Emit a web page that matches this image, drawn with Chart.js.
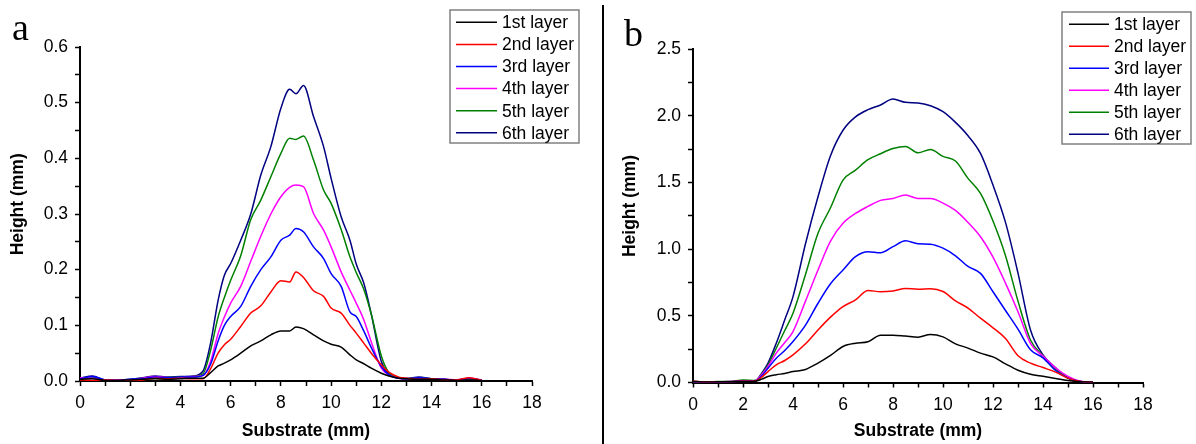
<!DOCTYPE html>
<html>
<head>
<meta charset="utf-8">
<script src="https://cdn.jsdelivr.net/npm/chart.js@4.4.1/dist/chart.umd.min.js"></script>
<style>
body{margin:0;background:#fff;width:1196px;height:444px;overflow:hidden;position:relative}
.panel{position:absolute;top:0;height:444px}
#wrapA{left:0;width:600px}
#wrapB{left:600px;width:596px}
#divider{position:absolute;left:602px;top:5px;width:1.5px;height:439px;background:#000}
</style>
</head>
<body>
<div class="panel" id="wrapA"><canvas id="chartA" width="600" height="444"></canvas></div>
<div id="divider"></div>
<div class="panel" id="wrapB"><canvas id="chartB" width="596" height="444"></canvas></div>
<script>
// layer names + colours
var layerNames = ['1st layer', '2nd layer', '3rd layer', '4th layer', '5th layer', '6th layer'];
var layerColors = ['#000000', '#ff0000', '#0000ff', '#ff00ff', '#008000', '#000080'];

// panel a : substrate position (mm)
var xsA = [0, 0.5, 1, 1.5, 2, 2.5, 3, 3.5, 4, 4.5, 4.9, 5.2, 5.5, 5.75, 6, 6.4, 6.8, 7.2, 7.6, 8, 8.35, 8.6, 8.9, 9.3, 9.7, 10, 10.4, 10.75, 11, 11.3, 11.6, 12, 12.3, 12.7, 13, 13.5, 14, 14.5, 15, 15.5, 16];
// panel a : height (mm)
var a1 = [0.003, 0.004, 0.001, 0.001, 0.002, 0.003, 0.004, 0.003, 0.004, 0.005, 0.005, 0.015, 0.027, 0.032, 0.038, 0.05, 0.063, 0.072, 0.083, 0.09, 0.09, 0.097, 0.094, 0.083, 0.072, 0.066, 0.061, 0.047, 0.038, 0.031, 0.023, 0.014, 0.009, 0.005, 0.004, 0.003, 0.003, 0.002, 0.001, 0.002, 0.001];
var a2 = [0.002, 0.001, 0.002, 0.001, 0.001, 0.002, 0.005, 0.004, 0.005, 0.004, 0.004, 0.022, 0.05, 0.065, 0.075, 0.098, 0.122, 0.135, 0.16, 0.18, 0.178, 0.196, 0.186, 0.162, 0.152, 0.131, 0.122, 0.1, 0.086, 0.068, 0.05, 0.029, 0.016, 0.007, 0.005, 0.003, 0.004, 0.002, 0.002, 0.006, 0.001];
var a3 = [0.004, 0.008, 0.002, 0.001, 0.003, 0.004, 0.007, 0.006, 0.007, 0.007, 0.01, 0.03, 0.072, 0.1, 0.116, 0.134, 0.17, 0.2, 0.223, 0.253, 0.262, 0.274, 0.268, 0.241, 0.22, 0.193, 0.17, 0.124, 0.116, 0.09, 0.06, 0.026, 0.011, 0.005, 0.004, 0.006, 0.004, 0.003, 0.001, 0.005, 0.001];
var a4 = [0.006, 0.005, 0.002, 0.002, 0.002, 0.005, 0.008, 0.006, 0.006, 0.008, 0.01, 0.035, 0.085, 0.115, 0.14, 0.17, 0.215, 0.26, 0.3, 0.331, 0.348, 0.352, 0.349, 0.301, 0.271, 0.241, 0.196, 0.163, 0.14, 0.11, 0.07, 0.023, 0.011, 0.005, 0.004, 0.005, 0.003, 0.003, 0.002, 0.005, 0.002];
var a5 = [0.003, 0.006, 0.001, 0.002, 0.002, 0.004, 0.007, 0.006, 0.007, 0.008, 0.013, 0.055, 0.115, 0.15, 0.181, 0.225, 0.29, 0.325, 0.367, 0.409, 0.436, 0.434, 0.44, 0.397, 0.343, 0.319, 0.272, 0.223, 0.195, 0.165, 0.12, 0.045, 0.015, 0.006, 0.004, 0.006, 0.003, 0.003, 0.001, 0.004, 0.001];
var a6 = [0.005, 0.009, 0.002, 0.002, 0.003, 0.006, 0.009, 0.007, 0.008, 0.009, 0.018, 0.068, 0.145, 0.19, 0.211, 0.253, 0.3, 0.37, 0.421, 0.49, 0.524, 0.516, 0.531, 0.475, 0.421, 0.364, 0.295, 0.253, 0.21, 0.176, 0.12, 0.035, 0.012, 0.005, 0.005, 0.007, 0.004, 0.003, 0.001, 0.004, 0.001];

// panel b : substrate position (mm)
var xsB = [0, 0.5, 1, 1.5, 2, 2.5, 2.75, 3, 3.33, 3.67, 4, 4.5, 5, 5.5, 6, 6.5, 7, 7.5, 8, 8.5, 9, 9.5, 10, 10.5, 11, 11.5, 12, 12.5, 13, 13.5, 14, 14.5, 15, 15.5, 16];
// panel b : height (mm)
var b1 = [0.01, 0.003, 0.005, 0.006, 0.008, 0.01, 0.025, 0.045, 0.058, 0.068, 0.082, 0.098, 0.145, 0.203, 0.27, 0.294, 0.305, 0.355, 0.355, 0.348, 0.34, 0.36, 0.342, 0.29, 0.258, 0.22, 0.192, 0.14, 0.092, 0.062, 0.046, 0.03, 0.015, 0.006, 0.002];
var b2 = [0.012, 0.003, 0.005, 0.006, 0.01, 0.012, 0.04, 0.082, 0.132, 0.165, 0.207, 0.29, 0.394, 0.49, 0.569, 0.619, 0.69, 0.68, 0.686, 0.705, 0.699, 0.703, 0.682, 0.612, 0.558, 0.482, 0.41, 0.33, 0.2, 0.145, 0.112, 0.078, 0.033, 0.008, 0.002];
var b3 = [0.008, 0.003, 0.006, 0.006, 0.01, 0.012, 0.05, 0.107, 0.182, 0.24, 0.307, 0.43, 0.594, 0.74, 0.843, 0.943, 0.98, 0.972, 1.018, 1.062, 1.04, 1.037, 1.007, 0.95, 0.87, 0.818, 0.68, 0.54, 0.4, 0.245, 0.185, 0.09, 0.033, 0.008, 0.002];
var b4 = [0.006, 0.004, 0.006, 0.007, 0.012, 0.014, 0.06, 0.12, 0.22, 0.3, 0.382, 0.61, 0.843, 1.06, 1.193, 1.267, 1.32, 1.365, 1.38, 1.405, 1.38, 1.38, 1.345, 1.29, 1.2, 1.093, 0.94, 0.745, 0.53, 0.294, 0.198, 0.11, 0.046, 0.01, 0.002];
var b5 = [0.005, 0.004, 0.007, 0.008, 0.018, 0.015, 0.065, 0.132, 0.257, 0.39, 0.519, 0.81, 1.118, 1.31, 1.517, 1.592, 1.67, 1.715, 1.754, 1.77, 1.722, 1.747, 1.695, 1.66, 1.53, 1.417, 1.21, 0.95, 0.61, 0.319, 0.2, 0.1, 0.034, 0.008, 0.002];
var b6 = [0.004, 0.004, 0.006, 0.007, 0.01, 0.015, 0.07, 0.145, 0.294, 0.47, 0.644, 1.04, 1.392, 1.7, 1.891, 1.991, 2.045, 2.08, 2.125, 2.1, 2.096, 2.075, 2.03, 1.95, 1.85, 1.717, 1.48, 1.2, 0.82, 0.394, 0.207, 0.11, 0.033, 0.008, 0.002];

var FONT = '"Liberation Sans", Arial, sans-serif';

// legend box + panel letter drawn on top of the chart
var overlayPlugin = {
	id: 'overlay',
	afterDraw: function(chart, args, opts) {
		var ctx = chart.ctx;
		ctx.save();
		ctx.font = '38px "Liberation Serif", "Times New Roman", serif';
		ctx.fillStyle = '#000';
		ctx.textBaseline = 'alphabetic';
		ctx.fillText(opts.letter, opts.letterX, opts.letterY);

		var b = opts.box;
		ctx.fillStyle = '#fff';
		ctx.fillRect(b.x, b.y, b.w, b.h);
		ctx.strokeStyle = '#808080';
		ctx.lineWidth = 1.5;
		ctx.strokeRect(b.x, b.y, b.w, b.h);
		ctx.font = '17.5px ' + FONT;
		ctx.textBaseline = 'middle';
		chart.data.datasets.forEach(function(ds, i) {
			var y = opts.rowY + i * opts.rowGap;
			ctx.strokeStyle = ds.borderColor;
			ctx.lineWidth = 1.5;
			ctx.beginPath();
			ctx.moveTo(opts.lineX0, y);
			ctx.lineTo(opts.lineX1, y);
			ctx.stroke();
			ctx.fillStyle = '#000';
			ctx.fillText(ds.label, opts.textX, y + 1);
		});
		ctx.restore();
	}
};

function makeChart(id, xs, series, cfg) {
	var ctx = document.getElementById(id).getContext('2d');
	var datasets = series.map(function(ys, i) {
		return {
			label: layerNames[i],
			data: xs.map(function(x, k) { return {x: x, y: ys[k]}; }),
			borderColor: layerColors[i],
			backgroundColor: layerColors[i],
			borderWidth: 1.5,
			pointRadius: 0,
			fill: false,
			cubicInterpolationMode: 'monotone'
		};
	});
	var tickFont = {family: FONT, size: 17.5};
	var titleFont = {family: FONT, size: 17.5, weight: 'bold'};
	return new Chart(ctx, {
		type: 'line',
		data: {datasets: datasets},
		plugins: [overlayPlugin],
		options: {
			responsive: false,
			animation: false,
			layout: {padding: {left: 0, top: cfg.top, right: cfg.right, bottom: 0}},
			plugins: {
				legend: {display: false},
				tooltip: {enabled: false},
				overlay: cfg.overlay
			},
			scales: {
				x: {
					type: 'linear',
					min: 0,
					max: 18,
					afterFit: function(s) { s.height = cfg.xHeight; },
					border: {color: '#000', width: 2},
					grid: {drawOnChartArea: false, tickLength: 5, tickColor: '#000', tickWidth: 1.5},
					ticks: {
						stepSize: 1,
						autoSkip: false,
						maxRotation: 0,
						padding: 7,
						color: '#000',
						font: tickFont,
						callback: function(v) { return Math.round(v) % 2 === 0 ? String(Math.round(v)) : ''; }
					},
					title: {display: true, text: 'Substrate (mm)', color: '#000', font: titleFont, padding: {top: 0, bottom: 2.5}}
				},
				y: {
					min: 0,
					max: cfg.yMax,
					afterFit: function(s) { s.width = cfg.yWidth; },
					border: {color: '#000', width: 2},
					grid: {drawOnChartArea: false, tickLength: 5, tickColor: '#000', tickWidth: 1.5},
					ticks: {
						stepSize: cfg.yMinor,
						autoSkip: false,
						padding: 7,
						color: '#000',
						font: tickFont,
						callback: function(v) {
							var n = Math.round(v / cfg.yMinor);
							return n % 2 === 0 ? (n * cfg.yMinor).toFixed(1) : '';
						}
					},
					title: {display: true, text: '    Height (mm)', color: '#000', font: titleFont, padding: {top: cfg.yTitlePad, bottom: 0}}
				}
			}
		}
	});
}

makeChart('chartA', xsA, [a1, a2, a3, a4, a5, a6], {
	top: 47, right: 68, xHeight: 63, yWidth: 80, yMax: 0.6, yMinor: 0.05, yTitlePad: 8,
	overlay: {
		letter: 'a', letterX: 12, letterY: 40,
		box: {x: 450, y: 10, w: 129, h: 133},
		rowY: 22.3, rowGap: 22.1, lineX0: 456, lineX1: 497, textX: 502
	}
});

makeChart('chartB', xsB, [b1, b2, b3, b4, b5, b6], {
	top: 49, right: 53, xHeight: 61.5, yWidth: 93, yMax: 2.5, yMinor: 0.25, yTitlePad: 20,
	overlay: {
		letter: 'b', letterX: 24, letterY: 46,
		box: {x: 462, y: 12, w: 129, h: 132},
		rowY: 24.3, rowGap: 22, lineX0: 469, lineX1: 509, textX: 514
	}
});
</script>
</body>
</html>
